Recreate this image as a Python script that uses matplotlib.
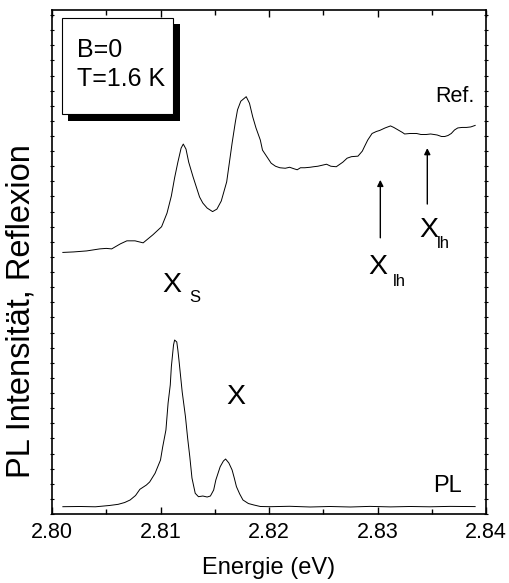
import matplotlib
matplotlib.use("Agg")
import matplotlib.pyplot as plt
from matplotlib.patches import Rectangle
from matplotlib.ticker import MultipleLocator

plt.rcParams['font.family'] = ['Liberation Sans', 'DejaVu Sans']

# Reflection spectrum (Ref.)
ref_energy = [2.8010, 2.8020, 2.8032, 2.8044, 2.8050, 2.8055, 2.8063, 2.8069, 2.80765, 2.8084,
              2.8093, 2.8101, 2.8106, 2.8110, 2.8113, 2.8116, 2.8119, 2.8121, 2.81235, 2.8126,
              2.8130, 2.8133, 2.8136, 2.8139, 2.8143, 2.8148, 2.8152, 2.8156, 2.8161, 2.8166,
              2.8169, 2.8171, 2.8174, 2.8179, 2.8182, 2.8185, 2.8188, 2.8192, 2.8194, 2.8198,
              2.8202, 2.8206, 2.8210, 2.8215, 2.8219, 2.8223, 2.8226, 2.8229, 2.8233, 2.8238,
              2.8241, 2.8245, 2.8249, 2.8253, 2.8257, 2.8262, 2.8268, 2.8272, 2.8276, 2.8282,
              2.8286, 2.8288, 2.8291, 2.8295, 2.8299, 2.8302, 2.8307, 2.8312, 2.8315, 2.8319,
              2.8323, 2.8325, 2.8330, 2.8336, 2.8340, 2.8345, 2.8349, 2.8355, 2.8359, 2.8362,
              2.8365, 2.8368, 2.8371, 2.8374, 2.8378, 2.8382, 2.8386, 2.8390]
ref_signal = [51.9, 52.0, 52.2, 52.6, 52.7, 52.6, 53.6, 54.2, 54.2, 53.8,
              55.4, 57.0, 59.7, 63.1, 66.7, 69.8, 72.6, 73.4, 72.4, 69.8,
              66.9, 64.9, 62.9, 61.7, 60.7, 60.0, 60.5, 62.1, 65.9, 73.6,
              77.8, 80.2, 81.9, 82.8, 81.5, 78.8, 76.6, 74.2, 72.2, 70.9,
              69.6, 69.0, 68.7, 68.6, 68.8, 68.5, 68.3, 68.7, 68.7, 68.8,
              68.9, 69.0, 69.2, 69.4, 69.0, 68.9, 69.8, 70.6, 70.9, 71.0,
              72.0, 72.9, 74.2, 75.5, 75.9, 76.1, 76.6, 77.0, 76.7, 76.2,
              75.7, 75.4, 75.5, 75.5, 75.3, 75.3, 75.4, 75.2, 74.9, 74.9,
              75.1, 75.5, 76.2, 76.6, 76.7, 76.7, 76.8, 77.1]

# Photoluminescence spectrum (PL)
pl_energy = [2.8010, 2.8026, 2.8040, 2.8053, 2.8061, 2.8067, 2.8072, 2.8077, 2.8081, 2.8087,
             2.8090, 2.8095, 2.8100, 2.8102, 2.8105, 2.8107, 2.8109, 2.8110, 2.8112, 2.8113,
             2.8115, 2.8116, 2.8117, 2.8120, 2.8123, 2.8125, 2.8127, 2.8129, 2.8132, 2.8135,
             2.8139, 2.8143, 2.8146, 2.8149, 2.8151, 2.8155, 2.8158, 2.8160, 2.8163, 2.8166,
             2.8168, 2.8170, 2.8173, 2.8176, 2.8181, 2.8186, 2.8192, 2.8201, 2.8219, 2.8238,
             2.8256, 2.8275, 2.8293, 2.8312, 2.8330, 2.8348, 2.8367, 2.8390]
pl_signal = [1.45, 1.49, 1.43, 1.69, 1.92, 2.28, 2.78, 3.67, 4.90, 5.75,
             6.35, 8.08, 10.71, 13.29, 16.67, 22.02, 25.60, 29.23, 33.53, 34.52,
             34.13, 32.54, 30.56, 24.21, 19.31, 15.08, 11.37, 7.14, 4.11, 3.43,
             3.57, 3.37, 3.57, 4.76, 6.75, 9.38, 10.52, 10.91, 10.12, 8.73,
             7.14, 5.42, 3.97, 2.78, 2.08, 1.79, 1.49, 1.45, 1.53, 1.39,
             1.49, 1.39, 1.51, 1.41, 1.49, 1.43, 1.51, 1.47]

# Arrow markers (energy, tail level, head level)
arrow_energy = [2.83026, 2.83459]
arrow_tail = [54.8, 61.5]
arrow_head = [66.3, 72.6]

x_ticks = [2.80, 2.81, 2.82, 2.83, 2.84]
x_ticklabels = ["2.80", "2.81", "2.82", "2.83", "2.84"]

W, H = 510, 583
fig = plt.figure(figsize=(W / 100, H / 100), dpi=100)
ax = fig.add_axes([52 / W, 1 - 514 / H, (486 - 52) / W, (514 - 10) / H])

def fp(x, y):
    return (x / W, 1 - y / H)

ax.plot(ref_energy, ref_signal, color='black', lw=0.7)
ax.plot(pl_energy, pl_signal, color='black', lw=0.7)

for e, t, h in zip(arrow_energy, arrow_tail, arrow_head):
    ax.annotate('', xy=(e, h), xytext=(e, t),
                arrowprops=dict(arrowstyle='-|>', color='black', lw=1.0,
                                mutation_scale=9, shrinkA=0, shrinkB=0))

ax.set_xlim(2.80, 2.84)
ax.set_ylim(0, 100)
ax.set_xticks(x_ticks)
ax.set_xticklabels(x_ticklabels)
ax.xaxis.set_minor_locator(MultipleLocator(0.005))
ax.yaxis.set_major_locator(MultipleLocator(3))
ax.set_yticklabels([])
ax.tick_params(axis='x', which='major', direction='in', length=5, width=1, labelsize=15.5, pad=6, top=True)
ax.tick_params(axis='x', which='minor', direction='in', length=3.5, width=1, top=True)
ax.tick_params(axis='y', which='major', direction='inout', length=2.5, width=0.8, left=True, right=True)
for s in ax.spines.values():
    s.set_linewidth(1.2)

ax.set_xlabel('Energie (eV)', fontsize=17, labelpad=10)
fig.text(*fp(21, 311), 'PL Intensität, Reflexion', rotation=90, fontsize=23.5,
         ha='center', va='center')

# Inset box with shadow
shadow = Rectangle(fp(68.5, 121), (180 - 68.5) / W, (121 - 24.5) / H,
                   transform=fig.transFigure, facecolor='black', edgecolor='none', zorder=5)
box = Rectangle(fp(62.5, 114), (173.3 - 62.5) / W, (114 - 18.3) / H,
                transform=fig.transFigure, facecolor='white', edgecolor='black', lw=0.8, zorder=6)
fig.patches.extend([shadow, box])
fig.text(*fp(77, 50), 'B=0', fontsize=18, ha='left', va='center', zorder=7)
fig.text(*fp(77, 79), 'T=1.6 K', fontsize=18, ha='left', va='center', zorder=7)

# Labels
fig.text(*fp(455, 97), 'Ref.', fontsize=15.5, ha='center', va='center')
fig.text(*fp(448, 486), 'PL', fontsize=17, ha='center', va='center')
fig.text(*fp(236, 397), 'X', fontsize=20.5, ha='center', va='center')
fig.text(*fp(172, 285), 'X', fontsize=20.5, ha='center', va='center')
fig.text(*fp(194.5, 298), 'S', fontsize=12, ha='center', va='center')
fig.text(*fp(377.5, 267), 'X', fontsize=20.5, ha='center', va='center')
fig.text(*fp(399.5, 282), 'lh', fontsize=12, ha='center', va='center')
fig.text(*fp(429, 230), 'X', fontsize=20.5, ha='center', va='center')
fig.text(*fp(443, 244), 'lh', fontsize=12, ha='center', va='center')

fig.savefig('out.png', dpi=100)
